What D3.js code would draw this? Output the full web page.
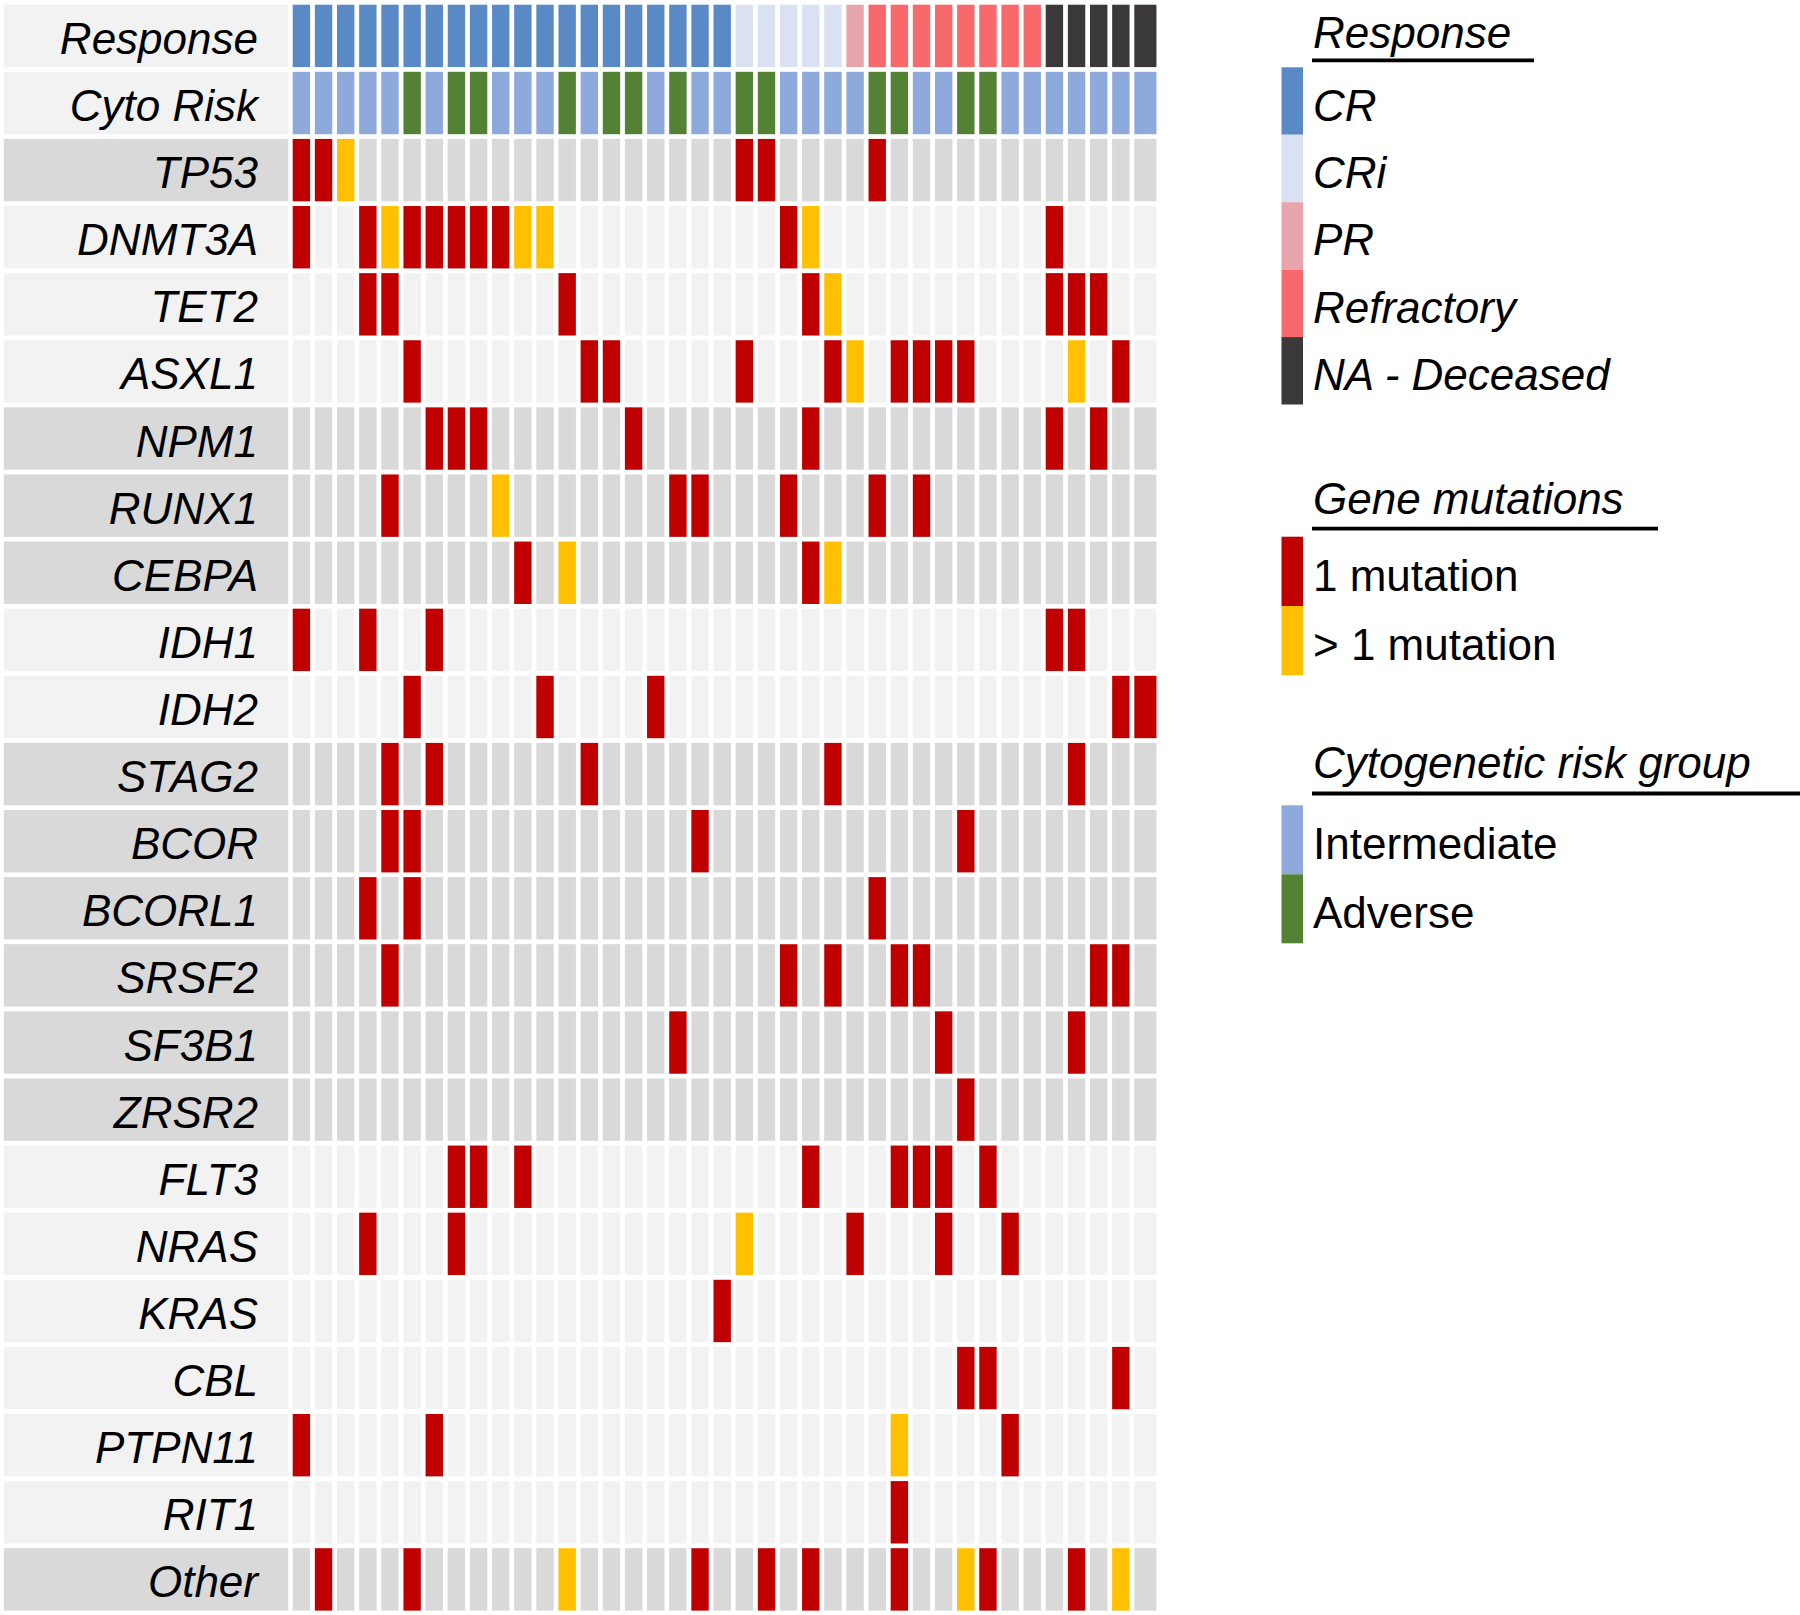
<!DOCTYPE html>
<html>
<head>
<meta charset="utf-8">
<script src="https://cdn.jsdelivr.net/npm/d3@7"></script>
<style>
  html, body { margin: 0; padding: 0; background: #ffffff; }
  svg { display: block; }
  text { font-family: "Liberation Sans", Arial, sans-serif; fill: #000; }
</style>
</head>
<body>
<div id="chart"></div>
<script>
// ---------------- DATA ----------------
const responseCategories = ["CR", "CRi", "PR", "Refractory", "NA - Deceased"];
const cytoCategories = ["Intermediate", "Adverse"];
const mutationCategories = ["1 mutation", "> 1 mutation"];

// one entry per patient (column), left to right
const patientResponse = [
  "CR","CR","CR","CR","CR","CR","CR","CR","CR","CR",
  "CR","CR","CR","CR","CR","CR","CR","CR","CR","CR",
  "CRi","CRi","CRi","CRi","CRi","PR","Refractory","Refractory","Refractory","Refractory",
  "Refractory","Refractory","Refractory","Refractory","NA - Deceased","NA - Deceased","NA - Deceased","NA - Deceased","NA - Deceased"
];
const patientCyto = [
  "Intermediate","Intermediate","Intermediate","Intermediate","Intermediate","Adverse","Intermediate","Adverse","Adverse","Intermediate",
  "Intermediate","Intermediate","Adverse","Intermediate","Adverse","Adverse","Intermediate","Adverse","Intermediate","Intermediate",
  "Adverse","Adverse","Intermediate","Intermediate","Intermediate","Intermediate","Adverse","Adverse","Intermediate","Intermediate",
  "Adverse","Adverse","Intermediate","Intermediate","Intermediate","Intermediate","Intermediate","Intermediate","Intermediate"
];

const geneNames = ["TP53","DNMT3A","TET2","ASXL1","NPM1","RUNX1","CEBPA","IDH1","IDH2","STAG2","BCOR","BCORL1",
                   "SRSF2","SF3B1","ZRSR2","FLT3","NRAS","KRAS","CBL","PTPN11","RIT1","Other"];
const geneGroups = ["Tumor suppressor","Epigenetic","Epigenetic","Epigenetic","Transcription","Transcription","Transcription",
                    "IDH","IDH","Cohesin/BCOR","Cohesin/BCOR","Cohesin/BCOR","Splicing","Splicing","Splicing",
                    "Signaling","Signaling","Signaling","Signaling","Signaling","Signaling","Other"];

// number of mutations per gene (rows) and patient (columns): 0 none, 1 one, 2 more than one
const mutationCounts = [
  /* TP53   */ [1,1,2,0,0,0,0,0,0,0, 0,0,0,0,0,0,0,0,0,0, 1,1,0,0,0,0,1,0,0,0, 0,0,0,0,0,0,0,0,0],
  /* DNMT3A */ [1,0,0,1,2,1,1,1,1,1, 2,2,0,0,0,0,0,0,0,0, 0,0,1,2,0,0,0,0,0,0, 0,0,0,0,1,0,0,0,0],
  /* TET2   */ [0,0,0,1,1,0,0,0,0,0, 0,0,1,0,0,0,0,0,0,0, 0,0,0,1,2,0,0,0,0,0, 0,0,0,0,1,1,1,0,0],
  /* ASXL1  */ [0,0,0,0,0,1,0,0,0,0, 0,0,0,1,1,0,0,0,0,0, 1,0,0,0,1,2,0,1,1,1, 1,0,0,0,0,2,0,1,0],
  /* NPM1   */ [0,0,0,0,0,0,1,1,1,0, 0,0,0,0,0,1,0,0,0,0, 0,0,0,1,0,0,0,0,0,0, 0,0,0,0,1,0,1,0,0],
  /* RUNX1  */ [0,0,0,0,1,0,0,0,0,2, 0,0,0,0,0,0,0,1,1,0, 0,0,1,0,0,0,1,0,1,0, 0,0,0,0,0,0,0,0,0],
  /* CEBPA  */ [0,0,0,0,0,0,0,0,0,0, 1,0,2,0,0,0,0,0,0,0, 0,0,0,1,2,0,0,0,0,0, 0,0,0,0,0,0,0,0,0],
  /* IDH1   */ [1,0,0,1,0,0,1,0,0,0, 0,0,0,0,0,0,0,0,0,0, 0,0,0,0,0,0,0,0,0,0, 0,0,0,0,1,1,0,0,0],
  /* IDH2   */ [0,0,0,0,0,1,0,0,0,0, 0,1,0,0,0,0,1,0,0,0, 0,0,0,0,0,0,0,0,0,0, 0,0,0,0,0,0,0,1,1],
  /* STAG2  */ [0,0,0,0,1,0,1,0,0,0, 0,0,0,1,0,0,0,0,0,0, 0,0,0,0,1,0,0,0,0,0, 0,0,0,0,0,1,0,0,0],
  /* BCOR   */ [0,0,0,0,1,1,0,0,0,0, 0,0,0,0,0,0,0,0,1,0, 0,0,0,0,0,0,0,0,0,0, 1,0,0,0,0,0,0,0,0],
  /* BCORL1 */ [0,0,0,1,0,1,0,0,0,0, 0,0,0,0,0,0,0,0,0,0, 0,0,0,0,0,0,1,0,0,0, 0,0,0,0,0,0,0,0,0],
  /* SRSF2  */ [0,0,0,0,1,0,0,0,0,0, 0,0,0,0,0,0,0,0,0,0, 0,0,1,0,1,0,0,1,1,0, 0,0,0,0,0,0,1,1,0],
  /* SF3B1  */ [0,0,0,0,0,0,0,0,0,0, 0,0,0,0,0,0,0,1,0,0, 0,0,0,0,0,0,0,0,0,1, 0,0,0,0,0,1,0,0,0],
  /* ZRSR2  */ [0,0,0,0,0,0,0,0,0,0, 0,0,0,0,0,0,0,0,0,0, 0,0,0,0,0,0,0,0,0,0, 1,0,0,0,0,0,0,0,0],
  /* FLT3   */ [0,0,0,0,0,0,0,1,1,0, 1,0,0,0,0,0,0,0,0,0, 0,0,0,1,0,0,0,1,1,1, 0,1,0,0,0,0,0,0,0],
  /* NRAS   */ [0,0,0,1,0,0,0,1,0,0, 0,0,0,0,0,0,0,0,0,0, 2,0,0,0,0,1,0,0,0,1, 0,0,1,0,0,0,0,0,0],
  /* KRAS   */ [0,0,0,0,0,0,0,0,0,0, 0,0,0,0,0,0,0,0,0,1, 0,0,0,0,0,0,0,0,0,0, 0,0,0,0,0,0,0,0,0],
  /* CBL    */ [0,0,0,0,0,0,0,0,0,0, 0,0,0,0,0,0,0,0,0,0, 0,0,0,0,0,0,0,0,0,0, 1,1,0,0,0,0,0,1,0],
  /* PTPN11 */ [1,0,0,0,0,0,1,0,0,0, 0,0,0,0,0,0,0,0,0,0, 0,0,0,0,0,0,0,2,0,0, 0,0,1,0,0,0,0,0,0],
  /* RIT1   */ [0,0,0,0,0,0,0,0,0,0, 0,0,0,0,0,0,0,0,0,0, 0,0,0,0,0,0,0,1,0,0, 0,0,0,0,0,0,0,0,0],
  /* Other  */ [0,1,0,0,0,1,0,0,0,0, 0,0,2,0,0,0,0,0,1,0, 0,1,0,1,0,0,0,1,0,0, 2,1,0,0,0,1,0,2,0]
];

// ---------------- STYLES ----------------
const responseColor = d3.scaleOrdinal().domain(responseCategories)
  .range(["#5a8ac6", "#dae1f2", "#e8a5ad", "#f8696b", "#3a3838"]);
const cytoColor = d3.scaleOrdinal().domain(cytoCategories).range(["#8eaadc", "#548235"]);
const mutationColor = d3.scaleOrdinal().domain(mutationCategories).range(["#c00000", "#ffc000"]);
const groupShade = d3.scaleOrdinal()
  .domain(["Annotation","Tumor suppressor","Epigenetic","Transcription","IDH","Cohesin/BCOR","Splicing","Signaling","Other"])
  .range(["#f2f2f2","#d9d9d9","#f2f2f2","#d9d9d9","#f2f2f2","#d9d9d9","#d9d9d9","#f2f2f2","#d9d9d9"]);

const W = 1800, H = 1615;
const FONT = 44;

const svg = d3.select("#chart").append("svg")
  .attr("width", W).attr("height", H)
  .attr("viewBox", `0 0 ${W} ${H}`);

const patients = d3.range(patientResponse.length);
const rowNames = ["Response", "Cyto Risk"].concat(geneNames);
const rowGroup = ["Annotation", "Annotation"].concat(geneGroups);

const x = d3.scaleBand().domain(patients).range([292.7, 1151.7]).paddingInner(0.2144).paddingOuter(0);
const y = d3.scaleBand().domain(rowNames).range([4.7, 1610.6]).paddingInner(0.0702).paddingOuter(0);
const lastPatient = patients[patients.length - 1];
const cellW = i => (i === lastPatient ? x.step() : x.bandwidth());

// row label cells
const labelG = svg.append("g");
labelG.selectAll("rect").data(rowNames).join("rect")
  .attr("x", 3.8).attr("width", 284.5)
  .attr("y", d => y(d)).attr("height", y.bandwidth())
  .attr("fill", (d, i) => groupShade(rowGroup[i]));
labelG.selectAll("text").data(rowNames).join("text")
  .attr("x", 258)
  .attr("y", d => y(d) + y.bandwidth() / 2 + 18)
  .attr("text-anchor", "end")
  .attr("font-size", FONT)
  .attr("font-style", "italic")
  .text(d => d);

// response row
svg.append("g").selectAll("rect").data(patients).join("rect")
  .attr("x", d => x(d)).attr("width", d => cellW(d))
  .attr("y", y("Response")).attr("height", y.bandwidth())
  .attr("fill", d => responseColor(patientResponse[d]));

// cyto risk row
svg.append("g").selectAll("rect").data(patients).join("rect")
  .attr("x", d => x(d)).attr("width", d => cellW(d))
  .attr("y", y("Cyto Risk")).attr("height", y.bandwidth())
  .attr("fill", d => cytoColor(patientCyto[d]));

// gene rows
const cells = [];
geneNames.forEach((g, gi) => {
  patients.forEach(p => cells.push({ gene: g, group: geneGroups[gi], patient: p, n: mutationCounts[gi][p] }));
});
svg.append("g").selectAll("rect").data(cells).join("rect")
  .attr("x", d => x(d.patient)).attr("width", d => cellW(d.patient))
  .attr("y", d => y(d.gene)).attr("height", y.bandwidth())
  .attr("fill", d => d.n === 0 ? groupShade(d.group) : mutationColor(d.n === 1 ? "1 mutation" : "> 1 mutation"));

// ---------------- LEGENDS ----------------
const LX = 1281.5, LW = 21.5, TX = 1313;
function legend(title, titleBaseline, lineY, lineEnd, items, color, yRange, italicItems) {
  const g = svg.append("g");
  g.append("text").attr("x", TX).attr("y", titleBaseline)
    .attr("font-size", FONT).attr("font-style", "italic").text(title);
  g.append("line").attr("x1", 1312).attr("x2", lineEnd).attr("y1", lineY).attr("y2", lineY)
    .attr("stroke", "#000").attr("stroke-width", 3.8);
  const ly = d3.scaleBand().domain(items).range(yRange).padding(0);
  g.selectAll("rect").data(items).join("rect")
    .attr("x", LX).attr("width", LW)
    .attr("y", d => ly(d)).attr("height", ly.bandwidth())
    .attr("fill", d => color(d));
  g.selectAll("text.item").data(items).join("text").attr("class", "item")
    .attr("x", TX).attr("y", d => ly(d) + ly.bandwidth() / 2 + 19.5)
    .attr("font-size", FONT).attr("font-style", italicItems ? "italic" : "normal")
    .text(d => d);
}
legend("Response", 48, 60.3, 1534, responseCategories, responseColor, [67.3, 404.5], true);
legend("Gene mutations", 514, 528.6, 1658, mutationCategories, mutationColor, [536.7, 675.3], false);
legend("Cytogenetic risk group", 778, 793.5, 1800, cytoCategories, cytoColor, [805.3, 943.3], false);
</script>
</body>
</html>
